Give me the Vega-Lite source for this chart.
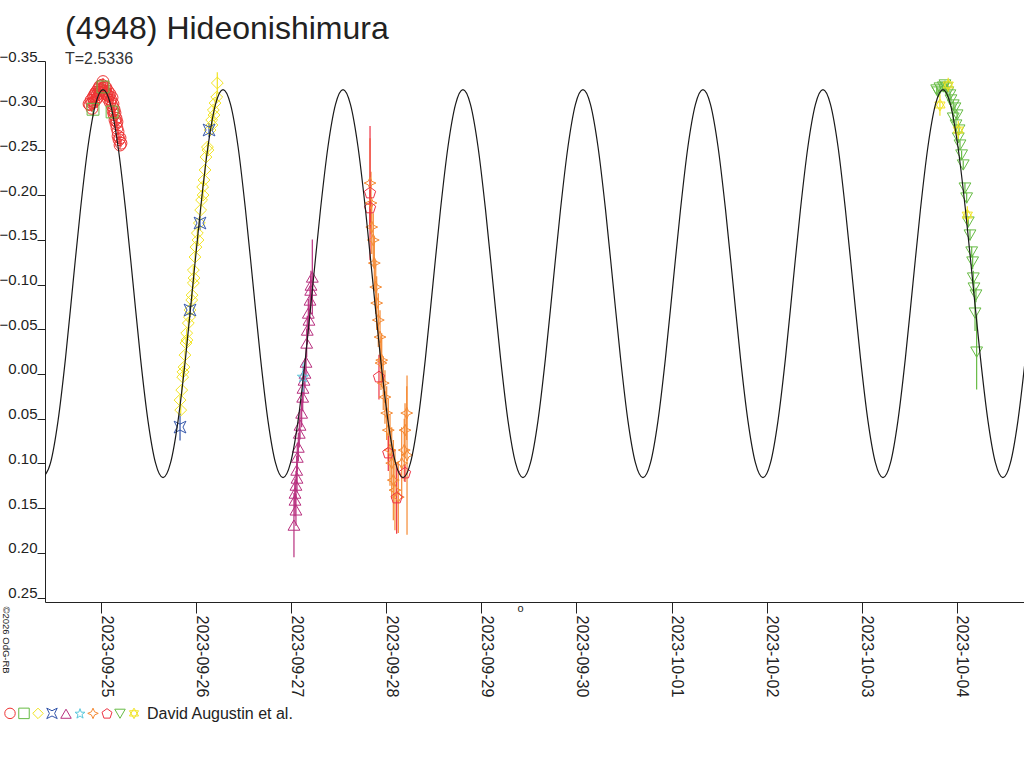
{
"$schema":"https://vega.github.io/schema/vega-lite/v6.json",
"width":979,"height":541,
"autosize":"none",
"padding":{"left":45,"top":61,"right":0,"bottom":166},
"background":"white",
"config":{"view":{"stroke":null},"font":"Liberation Sans"},
"title":{"text":"(4948) Hideonishimura","subtitle":"T=2.5336","anchor":"start","frame":"group","dx":20,"fontSize":32,"font":"Liberation Sans","fontWeight":"normal","color":"#222","subtitleFontSize":16,"subtitleColor":"#333","subtitleFont":"Liberation Sans","offset":-19,"subtitlePadding":5},
"datasets":{
"curve":[
{"d":-0.610,"m":0.116},{"d":-0.531,"m":0.0995},{"d":-0.452,"m":0.0524},{"d":-0.373,"m":-0.018},{"d":-0.295,"m":-0.101},{"d":-0.216,"m":-0.184},{"d":-0.137,"m":-0.2544},{"d":-0.058,"m":-0.3015},
{"d":0.021,"m":-0.318},{"d":0.100,"m":-0.3015},{"d":0.179,"m":-0.2544},{"d":0.258,"m":-0.184},{"d":0.337,"m":-0.101},{"d":0.415,"m":-0.018},{"d":0.494,"m":0.0524},{"d":0.573,"m":0.0995},{"d":0.652,"m":0.116},{"d":0.731,"m":0.0995},{"d":0.810,"m":0.0524},{"d":0.889,"m":-0.018},{"d":0.967,"m":-0.101},{"d":1.046,"m":-0.184},{"d":1.125,"m":-0.2544},{"d":1.204,"m":-0.3015},
{"d":1.283,"m":-0.318},{"d":1.362,"m":-0.3015},{"d":1.441,"m":-0.2544},{"d":1.519,"m":-0.184},{"d":1.598,"m":-0.101},{"d":1.677,"m":-0.018},{"d":1.756,"m":0.0524},{"d":1.835,"m":0.0995},{"d":1.914,"m":0.116},{"d":1.993,"m":0.0995},{"d":2.072,"m":0.0524},{"d":2.150,"m":-0.018},{"d":2.229,"m":-0.101},{"d":2.308,"m":-0.184},{"d":2.387,"m":-0.2544},{"d":2.466,"m":-0.3015},
{"d":2.545,"m":-0.318},{"d":2.623,"m":-0.3015},{"d":2.702,"m":-0.2544},{"d":2.781,"m":-0.184},{"d":2.860,"m":-0.101},{"d":2.939,"m":-0.018},{"d":3.018,"m":0.0524},{"d":3.097,"m":0.0995},{"d":3.176,"m":0.116},{"d":3.254,"m":0.0995},{"d":3.333,"m":0.0524},{"d":3.412,"m":-0.018},{"d":3.491,"m":-0.101},{"d":3.570,"m":-0.184},{"d":3.649,"m":-0.2544},{"d":3.728,"m":-0.3015},
{"d":3.806,"m":-0.318},{"d":3.885,"m":-0.3015},{"d":3.964,"m":-0.2544},{"d":4.043,"m":-0.184},{"d":4.122,"m":-0.101},{"d":4.201,"m":-0.018},{"d":4.280,"m":0.0524},{"d":4.359,"m":0.0995},{"d":4.437,"m":0.116},{"d":4.516,"m":0.0995},{"d":4.595,"m":0.0524},{"d":4.674,"m":-0.018},{"d":4.753,"m":-0.101},{"d":4.832,"m":-0.184},{"d":4.911,"m":-0.2544},{"d":4.989,"m":-0.3015},
{"d":5.068,"m":-0.318},{"d":5.147,"m":-0.3015},{"d":5.226,"m":-0.2544},{"d":5.305,"m":-0.184},{"d":5.384,"m":-0.101},{"d":5.463,"m":-0.018},{"d":5.541,"m":0.0524},{"d":5.620,"m":0.0995},{"d":5.699,"m":0.116},{"d":5.778,"m":0.0995},{"d":5.857,"m":0.0524},{"d":5.936,"m":-0.018},{"d":6.015,"m":-0.101},{"d":6.094,"m":-0.184},{"d":6.172,"m":-0.2544},{"d":6.251,"m":-0.3015},
{"d":6.330,"m":-0.318},{"d":6.409,"m":-0.3015},{"d":6.488,"m":-0.2544},{"d":6.567,"m":-0.184},{"d":6.646,"m":-0.101},{"d":6.724,"m":-0.018},{"d":6.803,"m":0.0524},{"d":6.882,"m":0.0995},{"d":6.961,"m":0.116},{"d":7.040,"m":0.0995},{"d":7.119,"m":0.0524},{"d":7.198,"m":-0.018},{"d":7.276,"m":-0.101},{"d":7.355,"m":-0.184},{"d":7.434,"m":-0.2544},{"d":7.513,"m":-0.3015},
{"d":7.592,"m":-0.318},{"d":7.671,"m":-0.3015},{"d":7.750,"m":-0.2544},{"d":7.828,"m":-0.184},{"d":7.907,"m":-0.101},{"d":7.986,"m":-0.018},{"d":8.065,"m":0.0524},{"d":8.144,"m":0.0995},{"d":8.223,"m":0.116},{"d":8.302,"m":0.0995},{"d":8.380,"m":0.0524},{"d":8.459,"m":-0.018},{"d":8.538,"m":-0.101},{"d":8.617,"m":-0.184},{"d":8.696,"m":-0.2544},{"d":8.775,"m":-0.3015},
{"d":8.854,"m":-0.318},{"d":8.932,"m":-0.3015},{"d":9.011,"m":-0.2544},{"d":9.090,"m":-0.184},{"d":9.169,"m":-0.101},{"d":9.248,"m":-0.018},{"d":9.327,"m":0.0524},{"d":9.406,"m":0.0995},{"d":9.484,"m":0.116},{"d":9.563,"m":0.0995},{"d":9.642,"m":0.0524},{"d":9.721,"m":-0.018}
],
"obs":[
{"s":"s01","d":-0.126,"m":-0.302,"e":0.004},{"s":"s01","d":-0.116,"m":-0.301,"e":0.004},{"s":"s01","d":-0.105,"m":-0.306,"e":0.004},{"s":"s01","d":-0.095,"m":-0.303,"e":0.004},{"s":"s01","d":-0.095,"m":-0.297,"e":0.004},{"s":"s01","d":-0.084,"m":-0.309,"e":0.004},{"s":"s01","d":-0.074,"m":-0.311,"e":0.004},{"s":"s01","d":-0.074,"m":-0.304,"e":0.004},{"s":"s01","d":-0.063,"m":-0.313,"e":0.004},{"s":"s01","d":-0.053,"m":-0.307,"e":0.004},{"s":"s01","d":-0.053,"m":-0.315,"e":0.004},{"s":"s01","d":-0.042,"m":-0.312,"e":0.004},{"s":"s01","d":-0.032,"m":-0.318,"e":0.004},{"s":"s01","d":-0.032,"m":-0.310,"e":0.004},{"s":"s01","d":-0.021,"m":-0.320,"e":0.004},{"s":"s01","d":-0.011,"m":-0.315,"e":0.004},{"s":"s01","d":-0.011,"m":-0.322,"e":0.004},{"s":"s01","d":0.0,"m":-0.318,"e":0.004},{"s":"s01","d":0.011,"m":-0.323,"e":0.004},{"s":"s01","d":0.021,"m":-0.320,"e":0.004},{"s":"s01","d":0.021,"m":-0.327,"e":0.004},{"s":"s01","d":0.032,"m":-0.316,"e":0.004},{"s":"s01","d":0.042,"m":-0.321,"e":0.004},{"s":"s01","d":0.053,"m":-0.314,"e":0.004},{"s":"s01","d":0.053,"m":-0.320,"e":0.004},{"s":"s01","d":0.063,"m":-0.312,"e":0.004},{"s":"s01","d":0.074,"m":-0.316,"e":0.004},{"s":"s01","d":0.074,"m":-0.308,"e":0.004},{"s":"s01","d":0.084,"m":-0.311,"e":0.004},{"s":"s01","d":0.095,"m":-0.304,"e":0.004},{"s":"s01","d":0.095,"m":-0.313,"e":0.004},{"s":"s01","d":0.105,"m":-0.306,"e":0.004},{"s":"s01","d":0.116,"m":-0.300,"e":0.004},{"s":"s01","d":0.116,"m":-0.309,"e":0.004},{"s":"s01","d":0.126,"m":-0.302,"e":0.004},{"s":"s01","d":0.126,"m":-0.294,"e":0.004},{"s":"s01","d":0.137,"m":-0.296,"e":0.004},{"s":"s01","d":0.137,"m":-0.290,"e":0.004},{"s":"s01","d":0.147,"m":-0.292,"e":0.004},{"s":"s01","d":0.147,"m":-0.284,"e":0.004},{"s":"s01","d":0.158,"m":-0.286,"e":0.004},{"s":"s01","d":0.158,"m":-0.280,"e":0.004},{"s":"s01","d":0.168,"m":-0.275,"e":0.004},{"s":"s01","d":0.168,"m":-0.282,"e":0.004},{"s":"s01","d":0.179,"m":-0.271,"e":0.004},{"s":"s01","d":0.179,"m":-0.266,"e":0.004},{"s":"s01","d":0.189,"m":-0.262,"e":0.004},{"s":"s01","d":0.200,"m":-0.264,"e":0.004},{"s":"s01","d":0.200,"m":-0.256,"e":0.004},{"s":"s01","d":0.210,"m":-0.258,"e":0.004},
{"s":"s02","d":-0.084,"m":-0.296,"e":0.008},{"s":"s02","d":0.021,"m":-0.321,"e":0.006},{"s":"s02","d":0.116,"m":-0.293,"e":0.006},
{"s":"s03","d":0.838,"m":0.0404,"e":0.005},{"s":"s03","d":0.831,"m":0.0292,"e":0.005},{"s":"s03","d":0.849,"m":0.018,"e":0.005},{"s":"s03","d":0.859,"m":0.0035,"e":0.005},{"s":"s03","d":0.862,"m":-0.0023,"e":0.005},{"s":"s03","d":0.873,"m":-0.0077,"e":0.005},{"s":"s03","d":0.883,"m":-0.0211,"e":0.005},{"s":"s03","d":0.894,"m":-0.0346,"e":0.005},{"s":"s03","d":0.901,"m":-0.0457,"e":0.005},{"s":"s03","d":0.904,"m":-0.0379,"e":0.005},{"s":"s03","d":0.918,"m":-0.0569,"e":0.005},{"s":"s03","d":0.929,"m":-0.0636,"e":0.005},{"s":"s03","d":0.936,"m":-0.0715,"e":0.005},{"s":"s03","d":0.954,"m":-0.0827,"e":0.005},{"s":"s03","d":0.957,"m":-0.0882,"e":0.005},{"s":"s03","d":0.971,"m":-0.1017,"e":0.005},{"s":"s03","d":0.978,"m":-0.1073,"e":0.005},{"s":"s03","d":0.971,"m":-0.1162,"e":0.005},{"s":"s03","d":0.988,"m":-0.1308,"e":0.005},{"s":"s03","d":0.999,"m":-0.1419,"e":0.005},{"s":"s03","d":1.020,"m":-0.1498,"e":0.005},{"s":"s03","d":1.013,"m":-0.1576,"e":0.005},{"s":"s03","d":1.034,"m":-0.1688,"e":0.005},{"s":"s03","d":1.048,"m":-0.1833,"e":0.005},{"s":"s03","d":1.058,"m":-0.1945,"e":0.005},{"s":"s03","d":1.073,"m":-0.2001,"e":0.005},{"s":"s03","d":1.069,"m":-0.2091,"e":0.005},{"s":"s03","d":1.083,"m":-0.2169,"e":0.005},{"s":"s03","d":1.094,"m":-0.2281,"e":0.005},{"s":"s03","d":1.104,"m":-0.2426,"e":0.005},{"s":"s03","d":1.125,"m":-0.2504,"e":0.005},{"s":"s03","d":1.119,"m":-0.2538,"e":0.005},{"s":"s03","d":1.147,"m":-0.2728,"e":0.005},{"s":"s03","d":1.167,"m":-0.2784,"e":0.005},{"s":"s03","d":1.164,"m":-0.284,"e":0.005},{"s":"s03","d":1.188,"m":-0.2896,"e":0.005},{"s":"s03","d":1.181,"m":-0.2952,"e":0.005},{"s":"s03","d":1.199,"m":-0.303,"e":0.005},{"s":"s03","d":1.217,"m":-0.3097,"e":0.005},{"s":"s03","d":1.223,"m":-0.3254,"e":0.012},
{"s":"s04","d":0.831,"m":0.0594,"e":0.015},{"s":"s04","d":0.936,"m":-0.0715,"e":0.008},{"s":"s04","d":1.041,"m":-0.1688,"e":0.008},{"s":"s04","d":1.136,"m":-0.2728,"e":0.008},
{"s":"s05","d":2.029,"m":0.169,"e":0.036},{"s":"s05","d":2.040,"m":0.141,"e":0.018},{"s":"s05","d":2.050,"m":0.152,"e":0.018},{"s":"s05","d":2.040,"m":0.1332,"e":0.016},{"s":"s05","d":2.050,"m":0.1243,"e":0.016},{"s":"s05","d":2.061,"m":0.1164,"e":0.016},{"s":"s05","d":2.058,"m":0.1075,"e":0.016},{"s":"s05","d":2.064,"m":0.093,"e":0.016},{"s":"s05","d":2.075,"m":0.0818,"e":0.016},{"s":"s05","d":2.085,"m":0.0661,"e":0.016},{"s":"s05","d":2.093,"m":0.0572,"e":0.016},{"s":"s05","d":2.110,"m":0.0437,"e":0.016},{"s":"s05","d":2.121,"m":0.0258,"e":0.016},{"s":"s05","d":2.124,"m":0.0158,"e":0.016},{"s":"s05","d":2.135,"m":0.0068,"e":0.016},{"s":"s05","d":2.145,"m":-0.001,"e":0.016},{"s":"s05","d":2.156,"m":-0.0133,"e":0.016},{"s":"s05","d":2.163,"m":-0.0346,"e":0.016},{"s":"s05","d":2.169,"m":-0.0491,"e":0.016},{"s":"s05","d":2.187,"m":-0.0603,"e":0.016},{"s":"s05","d":2.180,"m":-0.0681,"e":0.016},{"s":"s05","d":2.198,"m":-0.0827,"e":0.016},{"s":"s05","d":2.205,"m":-0.0938,"e":0.016},{"s":"s05","d":2.208,"m":-0.0994,"e":0.016},{"s":"s05","d":2.222,"m":-0.1084,"e":0.042},
{"s":"s06","d":2.124,"m":0.0035,"e":0.017},
{"s":"s07","d":2.829,"m":-0.2135,"e":0.05},{"s":"s07","d":2.839,"m":-0.1912,"e":0.035},{"s":"s07","d":2.847,"m":-0.1643,"e":0.03},{"s":"s07","d":2.863,"m":-0.1498,"e":0.03},{"s":"s07","d":2.874,"m":-0.124,"e":0.03},{"s":"s07","d":2.889,"m":-0.0972,"e":0.03},{"s":"s07","d":2.899,"m":-0.0793,"e":0.03},{"s":"s07","d":2.916,"m":-0.0603,"e":0.03},{"s":"s07","d":2.934,"m":-0.0413,"e":0.03},{"s":"s07","d":2.952,"m":-0.0155,"e":0.03},{"s":"s07","d":2.944,"m":-0.0122,"e":0.03},{"s":"s07","d":2.968,"m":0.0102,"e":0.03},{"s":"s07","d":2.986,"m":0.0258,"e":0.03},{"s":"s07","d":3.004,"m":0.0437,"e":0.03},{"s":"s07","d":3.021,"m":0.0628,"e":0.035},{"s":"s07","d":3.039,"m":0.0851,"e":0.04},{"s":"s07","d":3.057,"m":0.0997,"e":0.04},{"s":"s07","d":3.074,"m":0.1187,"e":0.045},{"s":"s07","d":3.091,"m":0.1299,"e":0.045},{"s":"s07","d":3.197,"m":0.0628,"e":0.03},{"s":"s07","d":3.189,"m":0.0851,"e":0.035},{"s":"s07","d":3.215,"m":0.0437,"e":0.03},{"s":"s07","d":3.162,"m":0.0997,"e":0.04},{"s":"s07","d":3.126,"m":0.1377,"e":0.04},{"s":"s07","d":3.218,"m":0.0907,"e":0.089},
{"s":"s08","d":2.829,"m":-0.2023,"e":0.075},{"s":"s08","d":2.829,"m":-0.1856,"e":0.02},{"s":"s08","d":2.923,"m":0.0035,"e":0.025},{"s":"s08","d":3.021,"m":0.0885,"e":0.02},{"s":"s08","d":3.197,"m":0.1109,"e":0.01},{"s":"s08","d":3.109,"m":0.1388,"e":0.04},
{"s":"s09","d":8.788,"m":-0.3176,"e":0.005},{"s":"s09","d":8.801,"m":-0.3153,"e":0.005},{"s":"s09","d":8.822,"m":-0.3198,"e":0.005},{"s":"s09","d":8.857,"m":-0.3209,"e":0.005},{"s":"s09","d":8.875,"m":-0.3232,"e":0.005},{"s":"s09","d":8.893,"m":-0.3198,"e":0.005},{"s":"s09","d":8.906,"m":-0.3153,"e":0.005},{"s":"s09","d":8.927,"m":-0.312,"e":0.005},{"s":"s09","d":8.938,"m":-0.3064,"e":0.005},{"s":"s09","d":8.962,"m":-0.3008,"e":0.005},{"s":"s09","d":8.980,"m":-0.2974,"e":0.005},{"s":"s09","d":9.002,"m":-0.2896,"e":0.005},{"s":"s09","d":8.962,"m":-0.2862,"e":0.005},{"s":"s09","d":8.991,"m":-0.2784,"e":0.005},{"s":"s09","d":9.023,"m":-0.2728,"e":0.005},{"s":"s09","d":9.015,"m":-0.2639,"e":0.005},{"s":"s09","d":9.033,"m":-0.256,"e":0.005},{"s":"s09","d":9.050,"m":-0.2449,"e":0.005},{"s":"s09","d":9.067,"m":-0.2337,"e":0.005},{"s":"s09","d":9.085,"m":-0.2079,"e":0.006},{"s":"s09","d":9.103,"m":-0.1968,"e":0.006},{"s":"s09","d":9.120,"m":-0.1699,"e":0.006},{"s":"s09","d":9.138,"m":-0.1554,"e":0.006},{"s":"s09","d":9.156,"m":-0.1364,"e":0.006},{"s":"s09","d":9.166,"m":-0.1252,"e":0.008},{"s":"s09","d":9.173,"m":-0.1073,"e":0.008},{"s":"s09","d":9.180,"m":-0.0961,"e":0.008},{"s":"s09","d":9.201,"m":-0.0883,"e":0.008},{"s":"s09","d":9.191,"m":-0.0681,"e":0.02},{"s":"s09","d":9.208,"m":-0.0245,"e":0.042},
{"s":"s10","d":8.909,"m":-0.3232,"e":0.008},{"s":"s10","d":8.822,"m":-0.3008,"e":0.012},{"s":"s10","d":9.015,"m":-0.2728,"e":0.01},{"s":"s10","d":9.110,"m":-0.1777,"e":0.01}
]
},
"encoding":{
  "x":{"field":"d","type":"quantitative","scale":{"domain":[-0.589,9.706],"nice":false,"zero":false},
   "axis":{"values":[0,1,2,3,4,5,6,7,8,9],"labelExpr":"timeFormat(datetime(2023,8,25+datum.value),'%Y-%m-%d')","labelAngle":90,"labelAlign":"left","labelBaseline":"alphabetic","labelFontSize":16,"labelFont":"Liberation Sans","labelColor":"#222","tickSize":11,"labelPadding":2,"domainColor":"#222","tickColor":"#222","grid":false,"labelFlush":false,"labelOverlap":false,"title":"o","titleX":475,"titleY":6,"titleFontSize":11,"titleFontWeight":"normal","titleColor":"#222","titleBaseline":"middle","titleAlign":"center","titleFont":"Liberation Sans"}},
  "y":{"field":"m","type":"quantitative","scale":{"domain":[-0.35,0.255],"reverse":true,"nice":false,"zero":false},
   "axis":{"values":[-0.35,-0.3,-0.25,-0.2,-0.15,-0.1,-0.05,0,0.05,0.1,0.15,0.2,0.25],"format":".2f","labelFontSize":15,"labelFont":"Liberation Sans","labelColor":"#222","labelBaseline":"alphabetic","labelPadding":0,"tickSize":8,"domainColor":"#222","tickColor":"#222","grid":false,"title":"©2026 OdG-RB","titleAngle":90,"titleX":-40,"titleY":545,"titleFontSize":9.5,"titleFontWeight":"normal","titleColor":"#222","titleAlign":"left","titleBaseline":"middle","titleFont":"Liberation Sans"}}
},
"layer":[
{"data":{"name":"obs"},
 "mark":{"type":"errorbar","ticks":false,"rule":{"strokeWidth":1.2}},
 "encoding":{
  "yError":{"field":"e"},
  "color":{"field":"s","type":"nominal"}
 }},
{"data":{"name":"obs"},
 "mark":{"type":"point","filled":false,"size":140,"strokeWidth":1,"opacity":1},
 "encoding":{
  "color":{"field":"s","type":"nominal",
   "scale":{"domain":["s01","s02","s03","s04","s05","s06","s07","s08","s09","s10"],"range":["#ee3333","#66bb44","#f2e422","#3355aa","#b8307f","#5bc8dc","#f58a33","#ee3344","#66bb44","#f2e422"]},
   "legend":{"orient":"none","legendX":-41,"legendY":646,"direction":"horizontal","title":"David Augustin et al.","titleOrient":"right","titleFontSize":16,"titleFontWeight":"normal","titleFont":"Liberation Sans","titleColor":"#222","titlePadding":6,"labelExpr":"''","labelOffset":0,"labelFontSize":1,"columnPadding":-6.5,"symbolSize":110,"symbolStrokeWidth":1}},
  "shape":{"field":"s","type":"nominal",
   "scale":{"domain":["s01","s02","s03","s04","s05","s06","s07","s08","s09","s10"],"range":["circle","square","diamond","M-1,-1L0,-0.5L1,-1L0.5,0L1,1L0,0.5L-1,1L-0.5,0Z","triangle-up","M0,-1L0.235,-0.324L0.951,-0.309L0.38,0.124L0.588,0.809L0,0.4L-0.588,0.809L-0.38,0.124L-0.951,-0.309L-0.235,-0.324Z","M0,-1L0.3,-0.3L1,0L0.3,0.3L0,1L-0.3,0.3L-1,0L-0.3,-0.3Z","M0,-1L0.951,-0.309L0.588,0.809L-0.588,0.809L-0.951,-0.309Z","triangle-down","M0,-1L0.866,0.5L-0.866,0.5ZM0,1L0.866,-0.5L-0.866,-0.5Z"]},
   "legend":{"orient":"none","legendX":-41,"legendY":646,"direction":"horizontal","title":"David Augustin et al.","titleOrient":"right","titleFontSize":16,"titleFontWeight":"normal","titleFont":"Liberation Sans","titleColor":"#222","titlePadding":6,"labelExpr":"''","labelOffset":0,"labelFontSize":1,"columnPadding":-6.5,"symbolSize":110,"symbolStrokeWidth":1}}
 }},
{"data":{"name":"curve"},
 "mark":{"type":"line","color":"#1a1a1a","strokeWidth":1.2,"interpolate":"monotone","clip":true},
 "encoding":{}}
]
}
